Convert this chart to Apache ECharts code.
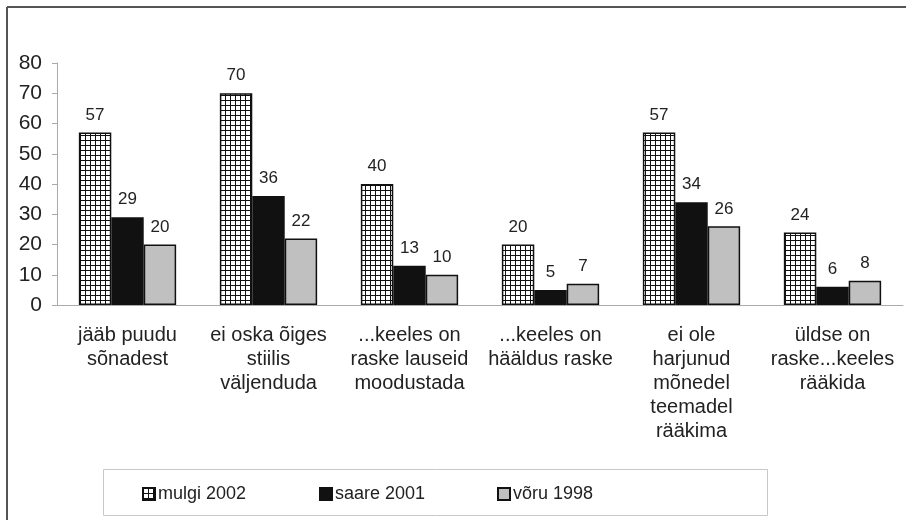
<!DOCTYPE html>
<html lang="et">
<head>
   <meta charset="UTF-8">
   <script src="https://cdn.jsdelivr.net/npm/echarts@6/dist/echarts.min.js"></script>
   <title>keeleoskus</title>
   <style>
      html, body { margin: 0; padding: 0; background: #fff; }
      #container { width: 906px; height: 520px; }
   </style>
</head>
<body>
   <div id="container"></div>
   <script>
      // kategooriad ja väärtused
      var categories = [
         'jääb puudu\nsõnadest',
         'ei oska õiges\nstiilis\nväljenduda',
         '...keeles on\nraske lauseid\nmoodustada',
         '...keeles on\nhääldus raske',
         'ei ole\nharjunud\nmõnedel\nteemadel\nrääkima',
         'üldse on\nraske...keeles\nrääkida'
      ];
      var seriesNames = ['mulgi 2002', 'saare 2001', 'võru 1998'];
      var mulgi = [57, 70, 40, 20, 57, 24];
      var saare = [29, 36, 13, 5, 34, 6];
      var voru = [20, 22, 10, 7, 26, 8];
      var yTicks = [0, 10, 20, 30, 40, 50, 60, 70, 80];

      // ruuduline muster mulgi tulpadele
      var pat = document.createElement('canvas');
      pat.width = 5;
      pat.height = 5;
      var ctx = pat.getContext('2d');
      ctx.fillStyle = '#ffffff';
      ctx.fillRect(0, 0, 5, 5);
      ctx.fillStyle = '#111111';
      ctx.fillRect(0, 0, 5, 1);
      ctx.fillRect(0, 0, 1, 5);

      var font = 'Liberation Sans, Arial, sans-serif';
      var labelStyle = {
         show: true,
         position: 'top',
         distance: 9,
         fontFamily: font,
         fontSize: 17,
         color: '#222'
      };

      function makeSeries(name, data, color) {
         return {
            name: name,
            type: 'bar',
            data: data,
            barGap: '0%',
            barCategoryGap: '31%',
            itemStyle: { color: color, borderColor: '#111', borderWidth: 1.5 },
            label: labelStyle
         };
      }

      function makeLegend(name, left) {
         return {
            data: [name],
            icon: 'rect',
            left: left,
            top: 485,
            padding: 0,
            itemWidth: 12,
            itemHeight: 12,
            itemGap: 0,
            textStyle: { fontFamily: font, fontSize: 18, color: '#222', padding: [0, 0, 0, -2] }
         };
      }

      var chart = echarts.init(document.getElementById('container'));
      var option = {
         animation: false,
         graphic: [
            { type: 'line', shape: { x1: 7, y1: 7, x2: 906, y2: 7 }, style: { stroke: '#555', lineWidth: 2 } },
            { type: 'line', shape: { x1: 7, y1: 7, x2: 7, y2: 520 }, style: { stroke: '#555', lineWidth: 2 } },
            { type: 'rect', shape: { x: 103.5, y: 469.5, width: 664, height: 46 }, style: { fill: 'none', stroke: '#c8c8c8', lineWidth: 1 }, z: -1 }
         ],
         legend: [
            makeLegend(seriesNames[0], 142),
            makeLegend(seriesNames[1], 319),
            makeLegend(seriesNames[2], 497)
         ],
         grid: { left: 57, right: 3, top: 63, bottom: 215 },
         xAxis: {
            type: 'category',
            data: categories,
            axisLine: { lineStyle: { color: '#aaa' } },
            axisTick: { length: 5, lineStyle: { color: '#aaa' } },
            axisLabel: {
               interval: 0,
               margin: 18,
               fontFamily: font,
               fontSize: 20,
               lineHeight: 24,
               color: '#222'
            }
         },
         yAxis: {
            type: 'value',
            min: yTicks[0],
            max: yTicks[yTicks.length - 1],
            interval: yTicks[1] - yTicks[0],
            splitLine: { show: false },
            axisLine: { show: true, lineStyle: { color: '#aaa' } },
            axisTick: { show: true, length: 5, lineStyle: { color: '#aaa' } },
            axisLabel: { margin: 15, fontFamily: font, fontSize: 21, color: '#222' }
         },
         series: [
            makeSeries(seriesNames[0], mulgi, { image: pat, repeat: 'repeat' }),
            makeSeries(seriesNames[1], saare, '#111111'),
            makeSeries(seriesNames[2], voru, '#c0c0c0')
         ]
      };
      chart.setOption(option);
   </script>
</body>
</html>
